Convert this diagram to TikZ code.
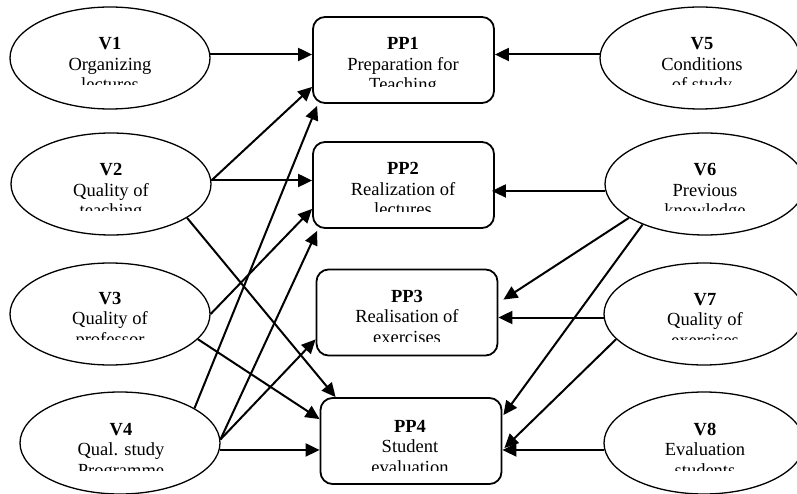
\documentclass[tikz,border=0pt]{standalone}
\usepackage{fontspec}
\setmainfont{Liberation Serif}
\usetikzlibrary{arrows.meta,shapes.geometric}
\newcommand\threelines[7]{%
  \begin{scope}
    \clip (#2-99,#3-30) rectangle (#2+99,#4);
    \node[lbl] (#1a) at (#2,#3) {\textbf{#5}};
    \node[lbl] (#1b) at (#2,#3+20.5) {#6};
    \node[lbl] (#1c) at (#2,#3+41) {#7};
  \end{scope}}
\begin{document}
\begin{tikzpicture}[x=1pt,y=-1pt,
  ell/.style={ellipse,draw,line width=1.3pt,minimum width=200pt,minimum height=102pt,inner sep=0pt},
  boxnode/.style={rectangle,rounded corners=12pt,draw,line width=1.8pt,minimum width=181pt,minimum height=86pt,inner sep=0pt},
  lbl/.style={anchor=base,inner sep=0pt,font=\fontsize{18.5}{21}\selectfont},
  arr/.style={line width=2pt,-{Triangle[length=14pt,width=13pt]}}]
\useasboundingbox (0,0) rectangle (797,494);
% ellipses
\node[ell] (v1) at (110,58) {};
\node[ell] (v2) at (111,184) {};
\node[ell] (v3) at (110,314) {};
\node[ell] (v4) at (120,443) {};
\node[ell] (v5) at (700,58) {};
\node[ell] (v6) at (705,184) {};
\node[ell] (v7) at (704,314) {};
\node[ell] (v8) at (704,443) {};
% boxes
\node[boxnode] (pp1) at (403.5,60) {};
\node[boxnode] (pp2) at (403.5,185) {};
\node[boxnode] (pp3) at (407,312.5) {};
\node[boxnode] (pp4) at (411,441) {};
% labels
\threelines{v1}{110}{50}{85}{V1}{Organizing}{lectures}
\threelines{v2}{111}{176}{211}{V2}{Quality of}{teaching}
\threelines{v3}{110}{304}{339}{V3}{Quality of}{professor}
\threelines{v4}{121}{435}{470}{V4}{Qual. study}{Programme}
\threelines{v5}{702}{50}{85}{V5}{Conditions}{of study}
\threelines{v6}{705}{176}{211}{V6}{Previous}{knowledge}
\threelines{v7}{705}{305}{339}{V7}{Quality of}{exercises}
\threelines{v8}{705}{435}{470}{V8}{Evaluation}{students}
\threelines{pp1}{403}{50}{87}{PP1}{Preparation for}{Teaching}
\threelines{pp2}{403}{175}{212}{PP2}{Realization of}{lectures}
\threelines{pp3}{407}{302}{341}{PP3}{Realisation of}{exercises}
\threelines{pp4}{410}{432}{470}{PP4}{Student}{evaluation}
% connectors left
\draw[arr] (v1.2) -- (v1.2 -| pp1.west);
\draw[arr] (v2.2) -- ([yshift=17pt]pp1.south west);
\draw[arr] (v2.2) -- (v2.2 -| pp2.west);
\draw[arr] (v2.-24) -- ([xshift=16pt]pp4.north west);
\draw[arr] (v3.east) -- ([yshift=20pt]pp2.south west);
\draw[arr] (v3.-16) -- ([yshift=-22pt]pp4.north west);
\draw[arr] (v4.25) -- ([xshift=5pt,yshift=-2pt]pp1.south west);
\draw[arr] (v4.2) -- ([xshift=5pt,yshift=-2pt]pp2.south west);
\draw[arr] (v4.2) -- ([yshift=17pt]pp3.south west);
\draw[arr] (v4.-4) -- (v4.-4 -| pp4.west);
% connectors right
\draw[arr] (v5.178) -- (v5.178 -| pp1.east);
\draw[arr,shorten >=-3pt] (v6.184) -- (v6.184 -| pp2.east);
\draw[arr] (v6.204) -- ([xshift=5pt,yshift=-31pt]pp3.north east);
\draw[arr] (v6.213) -- ([xshift=1pt,yshift=-18pt]pp4.north east);
\draw[arr] (v7.182) -- (v7.182 -| pp3.east);
\draw[arr] (v7.196) -- ([xshift=2pt,yshift=-7pt]pp4.east);
\draw[arr] (v8.184) -- (v8.184 -| pp4.east);
\end{tikzpicture}
\end{document}
